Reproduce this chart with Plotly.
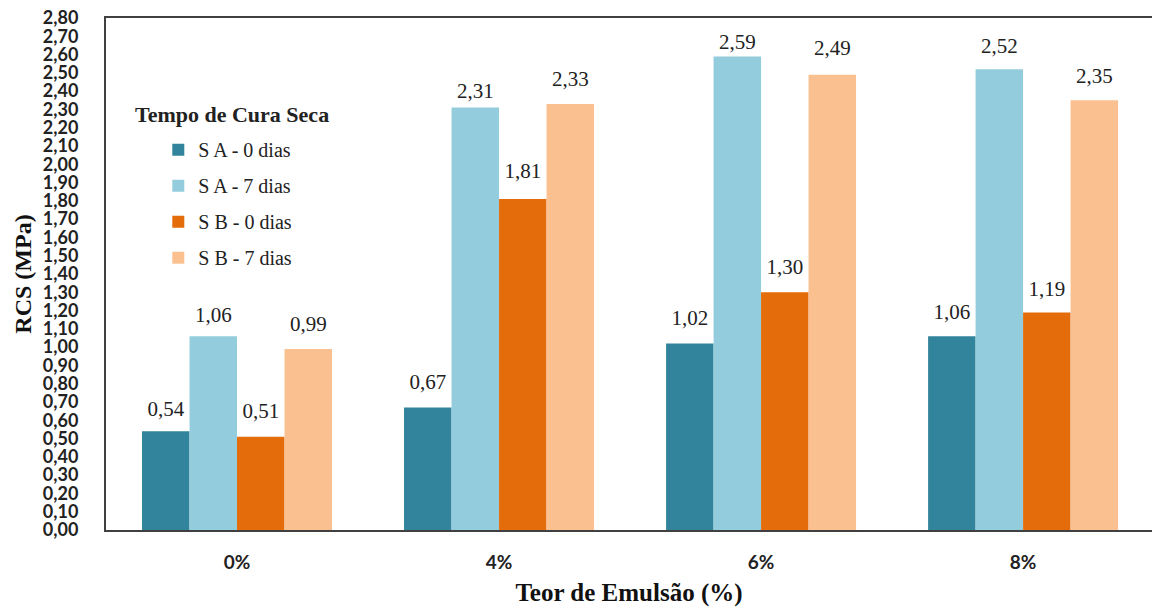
import plotly.graph_objects as go

categories = ["0%", "4%", "6%", "8%"]
series_names = ["S A - 0 dias", "S A - 7 dias", "S B - 0 dias", "S B - 7 dias"]
sa_0 = [0.54, 0.67, 1.02, 1.06]
sa_7 = [1.06, 2.31, 2.59, 2.52]
sb_0 = [0.51, 1.81, 1.30, 1.19]
sb_7 = [0.99, 2.33, 2.49, 2.35]
colors = ["#31849B", "#93CDDD", "#E46C0A", "#FAC090"]
# style: distance (px) between bar top and data-label centre, per series / category
label_gap_px = [[21, 24, 24, 23], [20, 17, 15, 22], [24, 26, 24, 22], [23, 23, 25, 23]]

fig = go.Figure()
all_vals = [sa_0, sa_7, sb_0, sb_7]
for i, (name, vals) in enumerate(zip(series_names, all_vals)):
    fig.add_trace(go.Bar(
        x=categories, y=vals, name=name, offsetgroup=f"g{i}",
        marker=dict(color=colors[i], line=dict(width=0)),
        legendgroup=f"g{i}",
    ))
for i, vals in enumerate(all_vals):
    fig.add_trace(go.Scatter(
        x=categories, y=vals, mode="markers+text", offsetgroup=f"g{i}",
        marker=dict(size=[max(0, 2 * (g - 14)) for g in label_gap_px[i]], opacity=0, color="white"),
        text=[f"{v:.2f}".replace(".", ",") for v in vals],
        textposition="top center",
        textfont=dict(family="Liberation Serif", size=21, color="#222222"),
        showlegend=False, hoverinfo="skip", cliponaxis=False,
    ))

fig.update_layout(
    width=1152, height=607,
    margin=dict(l=106, r=0, t=18, b=77),
    paper_bgcolor="white", plot_bgcolor="white",
    separators=",.",
    barmode="group", bargap=0.275, bargroupgap=0,
    scattermode="group", scattergap=0.275,
    showlegend=True,
    legend=dict(x=0.05, y=0.781, xanchor="left", yanchor="top",
                font=dict(family="Liberation Serif", size=20, color="#222222"),
                tracegroupgap=7, itemwidth=30, bgcolor="rgba(255,255,255,0)"),
    xaxis=dict(range=[-0.5, 3.492], showline=True, linecolor="#404040", linewidth=2,
               mirror=True, ticks="", showgrid=False,
               tickfont=dict(family="Lato", size=19, color="#222222", weight="bold"),
               ticklabelstandoff=14,
               title=dict(text="Teor de Emulsão (%)", standoff=12,
                          font=dict(family="Liberation Serif", size=25, color="#111111", weight="bold"))),
    yaxis=dict(range=[0, 2.8], dtick=0.1, tickformat=".2f", showline=True,
               linecolor="#404040", linewidth=2, showgrid=False, ticks="", zeroline=False,
               tickfont=dict(family="Lato", size=18, color="#222222", weight="bold"),
               ticklabelstandoff=22,
               title=dict(text="RCS (MPa)", standoff=4,
                          font=dict(family="Liberation Serif", size=24, color="#111111", weight="bold"))),
    annotations=[dict(text="<b>Tempo de Cura Seca</b>", x=0.0258, y=0.811, xref="paper", yref="paper",
                      xanchor="left", yanchor="middle", showarrow=False,
                      font=dict(family="Liberation Serif", size=22, color="#222222"))],
)

fig.write_html("out.html", config={"displayModeBar": False},
               post_script="document.body.style.margin='0';document.body.style.overflow='hidden';")
